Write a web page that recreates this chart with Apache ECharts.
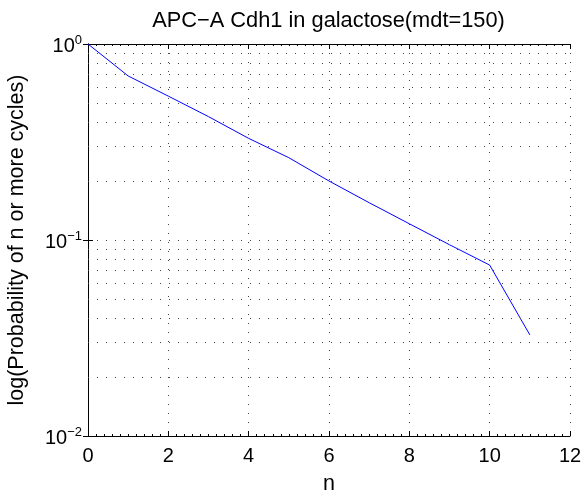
<!DOCTYPE html>
<html>
<head>
<meta charset="utf-8">
<script src="https://cdn.jsdelivr.net/npm/echarts@6/dist/echarts.min.js"></script>
<style>
  html, body { margin: 0; padding: 0; background: #fff; }
  #chart { width: 583px; height: 492px; }
</style>
</head>
<body>
<div id="chart"></div>
<script>
  // values
  const cycles = [0, 1, 2, 3, 4, 5, 6, 7, 8, 9, 10, 11];
  const probability = [1.0, 0.687, 0.542, 0.426, 0.330, 0.263, 0.200, 0.155, 0.121, 0.0946, 0.0745, 0.0328];
  const xTicks = [0, 2, 4, 6, 8, 10, 12];
  const yMinorGrid = [0.02, 0.03, 0.04, 0.05, 0.06, 0.07, 0.08, 0.09, 0.2, 0.3, 0.4, 0.5, 0.6, 0.7, 0.8, 0.9];

  const font = 'Liberation Sans, Arial, Helvetica, sans-serif';
  const dotted = { color: '#444', width: 1, type: [1, 8] };

  const chart = echarts.init(document.getElementById('chart'));

  const pow10Label = function (v) {
    const e = Math.round(Math.log10(v));
    return '{b|10}{s|' + (e < 0 ? '\u2212' + (-e) : e) + '}';
  };

  const option = {
    animation: false,
    backgroundColor: '#fff',
    title: {
      text: 'APC\u2212A Cdh1 in galactose(mdt=150)',
      left: 323.5,
      textAlign: 'center',
      top: 5,
      textStyle: { fontFamily: font, fontSize: 21.8, fontWeight: 'normal', color: '#000' }
    },
    grid: { left: 88, right: 13, top: 44, bottom: 56, containLabel: false, outerBoundsMode: 'none' },
    xAxis: [{
      type: 'value',
      min: xTicks[0],
      max: xTicks[xTicks.length - 1],
      interval: 2,
      name: 'n',
      nameLocation: 'middle',
      nameGap: 37,
      nameTextStyle: { fontFamily: font, fontSize: 21.5, color: '#000' },
      axisLine: { onZero: false, lineStyle: { color: '#000', width: 1 } },
      axisTick: { inside: true, length: 5, lineStyle: { color: '#000' } },
      minorTick: { show: true, splitNumber: 10, length: 2, lineStyle: { color: '#000' } },
      axisLabel: { fontFamily: font, fontSize: 20, color: '#000', margin: 10 },
      splitLine: { show: true, lineStyle: dotted }
    }, {
      type: 'value',
      position: 'top',
      min: xTicks[0],
      max: xTicks[xTicks.length - 1],
      interval: 2,
      axisLine: { lineStyle: { color: '#000', width: 1 } },
      axisTick: { inside: true, length: 5, lineStyle: { color: '#000' } },
      minorTick: { show: true, splitNumber: 10, length: 2, lineStyle: { color: '#000' } },
      axisLabel: { show: false },
      splitLine: { show: false }
    }],
    yAxis: [{
      type: 'log',
      logBase: 10,
      min: 0.01,
      max: 1,
      name: 'log(Probability of n or more cycles)',
      nameLocation: 'middle',
      nameGap: 60,
      nameTextStyle: { fontFamily: font, fontSize: 21.5, color: '#000' },
      axisLine: { lineStyle: { color: '#000', width: 1 } },
      axisTick: { inside: true, length: 5, lineStyle: { color: '#000' } },
      axisLabel: {
        formatter: pow10Label,
        margin: 6,
        rich: {
          b: { fontFamily: font, fontSize: 20, color: '#000', lineHeight: 20, padding: [4, 0, 0, 0] },
          s: { fontFamily: font, fontSize: 13, color: '#000', lineHeight: 0, verticalAlign: 'top' }
        }
      },
      splitLine: { show: true, lineStyle: dotted }
    }, {
      type: 'log',
      logBase: 10,
      min: 0.01,
      max: 1,
      position: 'right',
      axisLine: { lineStyle: { color: '#000', width: 1 } },
      axisTick: { inside: true, length: 5, lineStyle: { color: '#000' } },
      axisLabel: { show: false },
      splitLine: { show: false }
    }],
    series: [{
      type: 'line',
      data: cycles.map((n, i) => [n, probability[i]]),
      showSymbol: false,
      lineStyle: { color: '#0000ff', width: 1 },
      itemStyle: { color: '#0000ff' },
      markLine: {
        silent: true,
        symbol: ['none', 'none'],
        label: { show: false },
        lineStyle: dotted,
        data: yMinorGrid.map(v => ({ yAxis: v }))
      }
    }]
  };

  chart.setOption(option);
</script>
</body>
</html>
